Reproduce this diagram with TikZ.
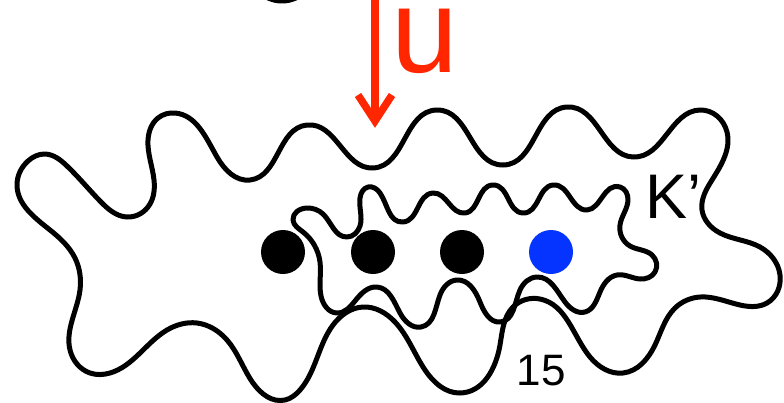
\documentclass[tikz,border=0pt]{standalone}
\usepackage{fontspec}
\setmainfont{Liberation Sans}
\usetikzlibrary{hobby}
\definecolor{uRed}{RGB}{255,38,0}
\definecolor{siteBlue}{RGB}{5,51,255}
\begin{document}
\begin{tikzpicture}[x=1pt,y=-1pt,
  blob/.style={draw=black, line width=5pt, line join=round},
  site/.style={circle, fill=#1, minimum size=44pt, inner sep=0pt},
  site/.default=black,
  uarrow/.style={draw=uRed, line width=7.5pt},
  lbl/.style={inner sep=0pt, text=black}]
\useasboundingbox (0,0) rectangle (784,402);
\clip (0,0) rectangle (784,402);

% stroke peeking in from above
\draw[blob] (282,-32) circle[radius=33];

% outer region
\draw[blob] plot[closed hobby] coordinates {
  (17,185) (28,161) (45,154) (67,166) (100,201) (127,217) (150,204)
  (154,180) (148,140) (158,118) (175,113) (217,157) (250,180) (307,125)
  (373,168) (437,110) (503,165) (567,107) (633,157) (700,110) (727,132)
  (712,180) (702,210) (720,233) (760,247) (780,275) (767,303) (740,305)
  (700,297) (675,308) (655,345) (623,373) (590,357) (540,299) (513,307)
  (500,345) (460,393) (425,370) (395,322) (363,307) (333,325) (300,390)
  (285,400) (253,383) (227,340) (197,323) (167,330) (110,373) (90,373)
  (70,350) (80,290) (75,258) (50,230)};

% inner region K'
\draw[blob] plot[closed hobby] coordinates {
  (293,220) (307,208) (323,214) (347,237) (360,226) (360,198) (368,187)
  (380,193) (403,222) (433,193) (465,213) (493,185) (523,213) (553,185)
  (587,210) (620,187) (628,200) (620,225) (630,246) (652,255) (655,272)
  (640,279) (617,275) (600,292) (585,312) (565,302) (537,277) (520,290)
  (500,322) (480,302) (457,280) (440,295) (421,327) (400,313) (377,287)
  (355,301) (337,313) (321,296) (320,262) (303,232)};

% sites
\node[site] (s1) at (283,252) {};
\node[site] (s2) at (373,252) {};
\node[site] (s3) at (462,252) {};
\node[site=siteBlue] (s4) at (551,252) {};

% move u
\coordinate (ufrom) at (375,-5);
\coordinate (uto) at (375,121);
\draw[uarrow] (ufrom) -- (uto);
\draw[uarrow, line join=miter] (uto) ++(-17,-26) -- (uto) -- ++(17,-26);
\node[lbl, text=uRed, font=\fontsize{120}{120}\selectfont, anchor=base]
  (ulabel) at (425,72) {u};

% labels
\node[lbl, font=\fontsize{63}{63}\selectfont, anchor=base west]
  (kprime) at (645,218) {K’};
\node[lbl, font=\fontsize{44}{44}\selectfont, anchor=base]
  (count) at (541,385) {15};
\end{tikzpicture}
\end{document}
